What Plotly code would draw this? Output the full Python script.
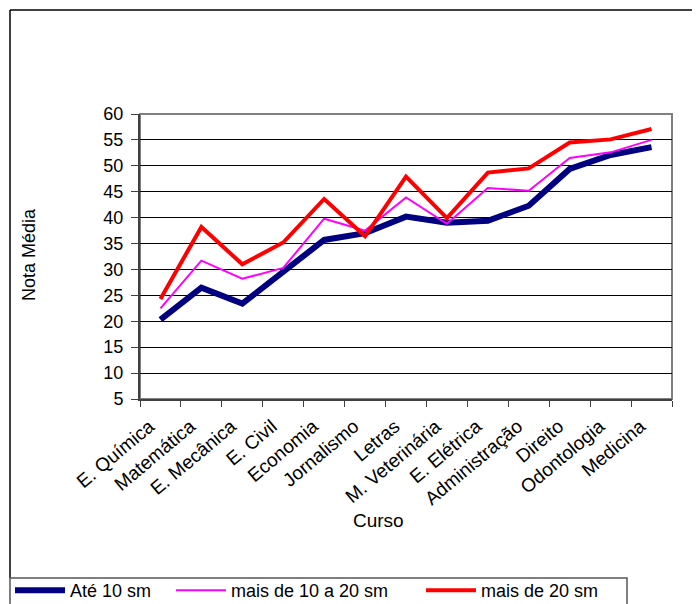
import plotly.graph_objects as go

cursos = ["E. Química", "Matemática", "E. Mecânica", "E. Civil", "Economia", "Jornalismo",
          "Letras", "M. Veterinária", "E. Elétrica", "Administração", "Direito",
          "Odontologia", "Medicina"]

ate_10 = [20.3, 26.5, 23.4, 29.4, 35.7, 37.0, 40.2, 39.0, 39.4, 42.3, 49.4, 52.1, 53.6]
de_10_a_20 = [22.5, 31.7, 28.2, 30.3, 39.8, 37.5, 43.9, 38.8, 45.7, 45.2, 51.5, 52.6, 55.0]
mais_20 = [24.3, 38.2, 31.0, 35.2, 43.6, 36.4, 47.9, 39.9, 48.7, 49.5, 54.5, 55.1, 57.1]

y_ticks = list(range(5, 61, 5))

font = "Liberation Sans, Arial, sans-serif"

fig = go.Figure()
fig.add_trace(go.Scatter(x=cursos, y=ate_10, mode="lines", name="Até 10 sm",
                         line=dict(color="#000080", width=6), legend="legend"))
fig.add_trace(go.Scatter(x=cursos, y=de_10_a_20, mode="lines", name="mais de 10 a 20 sm",
                         line=dict(color="#FF00FF", width=2), legend="legend2"))
fig.add_trace(go.Scatter(x=cursos, y=mais_20, mode="lines", name="mais de 20 sm",
                         line=dict(color="#FF0000", width=4), legend="legend3"))

# page has an 8px body margin, so the figure is drawn 8px in from the window corner
OFF = 8
W, H = 700 - OFF, 604 - OFF
# plot area in window pixels
L, R, T, B = 140, 672, 114, 399
px_x = lambda p: (p - L) / (R - L)
px_y = lambda p: (B - p) / (B - T)

fig.update_xaxes(
    type="category", range=[-0.5, len(cursos) - 0.5], tickangle=-40, automargin=False,
    showgrid=False, showline=True, linecolor="#404040", linewidth=2,
    ticks="outside", tickson="boundaries", ticklen=6, tickcolor="#404040",
    ticklabelshift=-11, ticklabelstandoff=7,
    tickfont=dict(family=font, size=19, color="black"),
)
fig.update_yaxes(
    range=[5, 60], tickvals=y_ticks, showgrid=True, gridcolor="black", gridwidth=1,
    showline=True, linecolor="#404040", linewidth=2, zeroline=False, automargin=False,
    ticks="outside", ticklen=7, tickcolor="#404040", ticklabelstandoff=4,
    tickfont=dict(family=font, size=18, color="black"),
)

# one legend per entry so each sits where the reference puts it
def leg(x):
    return dict(orientation="h", x=px_x(x), xanchor="left", y=px_y(572), yanchor="top",
                bgcolor="rgba(0,0,0,0)", borderwidth=0, font=dict(size=18),
                itemwidth=50)

fig.update_layout(
    width=W, height=H,
    margin=dict(l=L - OFF, r=W - (R - OFF), t=T - OFF, b=H - (B - OFF), autoexpand=False),
    plot_bgcolor="white", paper_bgcolor="white",
    font=dict(family=font, color="black"),
    showlegend=True,
    legend=leg(10), legend2=leg(171), legend3=leg(421),
    shapes=[
        # outer chart frame
        dict(type="line", xref="paper", yref="paper", x0=px_x(10), x1=px_x(710),
             y0=px_y(10), y1=px_y(10), line=dict(color="black", width=1.5)),
        dict(type="line", xref="paper", yref="paper", x0=px_x(10), x1=px_x(10),
             y0=px_y(578), y1=px_y(10), line=dict(color="black", width=1.5)),
        # legend box
        dict(type="rect", xref="paper", yref="paper", x0=px_x(10), x1=px_x(627),
             y0=px_y(612), y1=px_y(578), line=dict(color="#555555", width=1.5)),
        # plot area border
        dict(type="rect", xref="paper", yref="paper", x0=0, x1=1, y0=0, y1=1,
             line=dict(color="#808080", width=2), layer="below"),
    ],
    annotations=[
        dict(text="Nota Média", xref="paper", yref="paper", x=px_x(29), y=px_y(255),
             xanchor="center", yanchor="middle",
             textangle=-90, showarrow=False, font=dict(size=18)),
        dict(text="Curso", xref="paper", yref="paper", x=px_x(378), y=px_y(520),
             xanchor="center", yanchor="middle",
             showarrow=False, font=dict(size=19)),
    ],
)

fig.write_html("out.html")
